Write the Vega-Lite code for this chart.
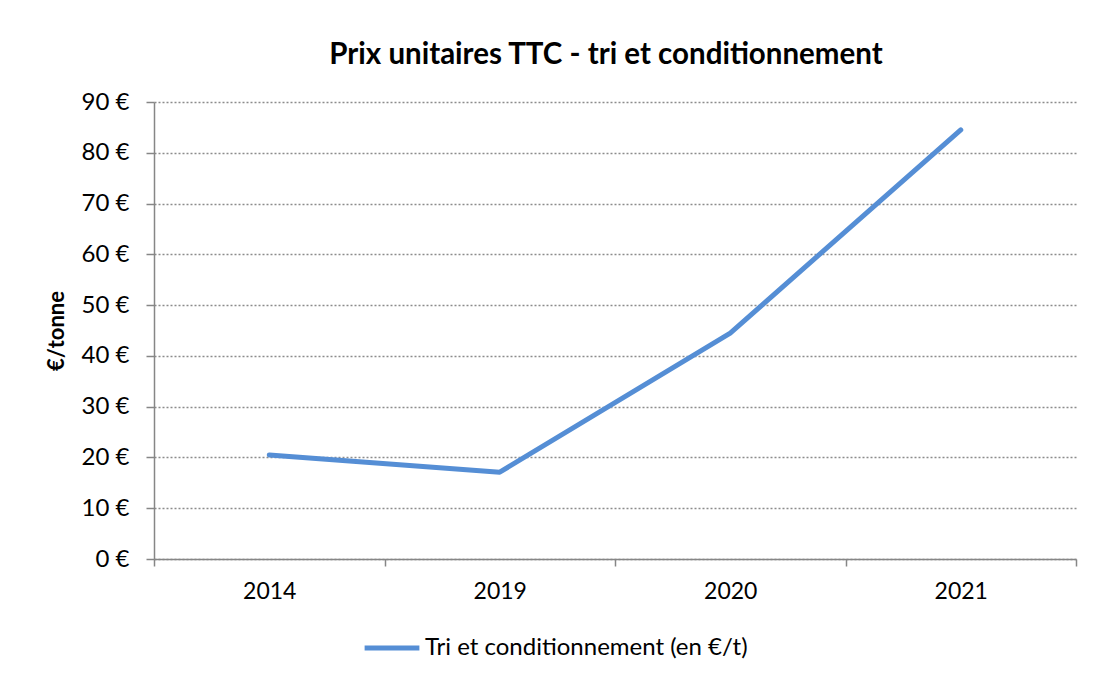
{
  "$schema": "https://vega.github.io/schema/vega-lite/v6.json",
  "autosize": "none",
  "width": 922,
  "height": 457,
  "padding": {"left": 154, "top": 102, "right": 18, "bottom": 125},
  "background": "white",
  "title": {
    "text": "Prix unitaires TTC - tri et conditionnement",
    "font": "Lato",
    "fontSize": 29.5,
    "fontWeight": "bold",
    "color": "#000000",
    "anchor": "middle",
    "dx": -9,
    "offset": 20
  },
  "data": {
    "values": [
      {"annee": "2014", "prix": 20.5, "serie": "Tri et conditionnement (en €/t)"},
      {"annee": "2019", "prix": 17.1, "serie": "Tri et conditionnement (en €/t)"},
      {"annee": "2020", "prix": 44.5, "serie": "Tri et conditionnement (en €/t)"},
      {"annee": "2021", "prix": 84.5, "serie": "Tri et conditionnement (en €/t)"}
    ]
  },
  "mark": {"type": "line", "strokeWidth": 5, "strokeCap": "round", "strokeJoin": "round"},
  "encoding": {
    "x": {
      "field": "annee",
      "type": "ordinal",
      "bandPosition": 0.5,
      "scale": {"type": "band", "paddingInner": 0, "paddingOuter": 0},
      "axis": {
        "title": null,
        "labelAngle": 0,
        "tickBand": "extent",
        "labelFont": "Lato",
        "labelFontSize": 23,
        "labelColor": "#000000",
        "labelPadding": 14,
        "domainColor": "#868686",
        "domainWidth": 1.5,
        "tickColor": "#868686",
        "tickWidth": 1.5,
        "tickSize": 7,
        "grid": false
      }
    },
    "y": {
      "field": "prix",
      "type": "quantitative",
      "scale": {"domain": [0, 90], "nice": false},
      "axis": {
        "title": "€/tonne",
        "titleFont": "Lato",
        "titleFontSize": 22,
        "titleFontWeight": "bold",
        "titleColor": "#000000",
        "titlePadding": 13,
        "values": [0, 10, 20, 30, 40, 50, 60, 70, 80, 90],
        "labelExpr": "datum.value + ' €'",
        "labelFont": "Lato",
        "labelFontSize": 24,
        "labelColor": "#000000",
        "labelPadding": 17,
        "domainColor": "#868686",
        "domainWidth": 1.5,
        "tickColor": "#868686",
        "tickWidth": 1.5,
        "tickSize": 8,
        "grid": true,
        "gridColor": "#8c8c8c",
        "gridWidth": 1.3,
        "gridDash": [2, 2]
      }
    },
    "color": {
      "field": "serie",
      "type": "nominal",
      "scale": {"range": ["#558ED5"]},
      "legend": {
        "title": null,
        "orient": "none",
        "legendX": 208,
        "legendY": 516,
        "symbolType": "stroke",
        "symbolSize": 3000,
        "symbolStrokeWidth": 5,
        "labelFont": "Lato",
        "labelFontSize": 24,
        "labelColor": "#000000",
        "labelOffset": 3,
        "labelLimit": 0
      }
    }
  },
  "config": {
    "view": {"stroke": null}
  }
}
